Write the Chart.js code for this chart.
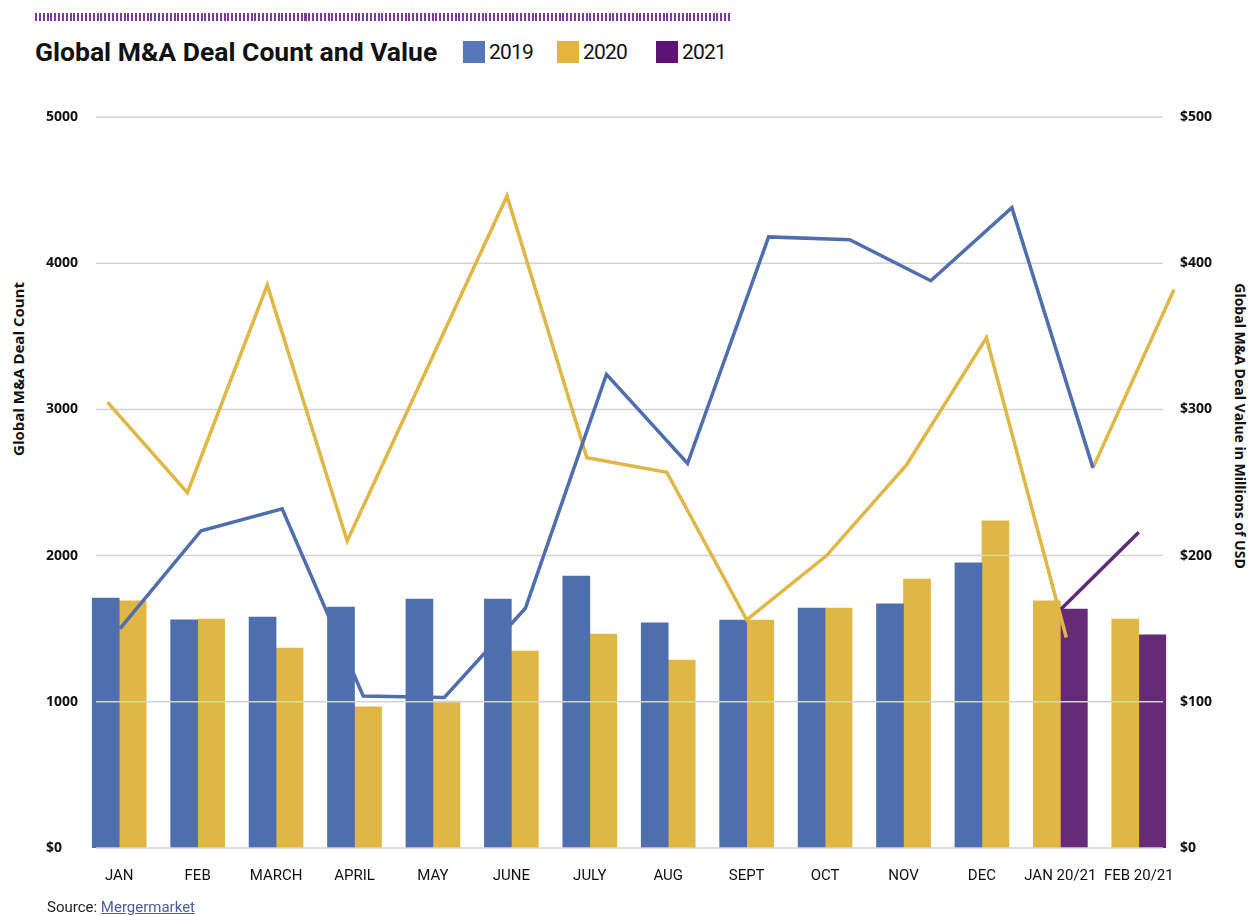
<!DOCTYPE html>
<html>
<head>
<meta charset="utf-8">
<title>Global M&amp;A Deal Count and Value</title>
<script src="https://cdn.jsdelivr.net/npm/chart.js@4.4.1/dist/chart.umd.min.js"></script>
<style>
  html, body { margin: 0; padding: 0; background: #fff; }
  #wrap { position: relative; width: 1251px; height: 915px; overflow: hidden; font-family: "Open Sans", sans-serif; color: #111; }
  #chart { position: absolute; left: 0; top: 0; }
  .stripes { position: absolute; left: 35px; top: 13px; width: 697px; height: 8px;
    background: repeating-linear-gradient(90deg, #7b3d9c 0px, #7b3d9c 2px, transparent 2px, transparent 3.85px); }
  .title { position: absolute; left: 35px; top: 35px; font-family: Roboto, sans-serif;
    font-weight: bold; font-size: 26.5px; line-height: 33px; white-space: nowrap; }
  .key { position: absolute; top: 41px; height: 22px; font-family: Roboto, sans-serif;
    font-size: 21px; letter-spacing: -0.8px; line-height: 22px; white-space: nowrap; }
  .key i { display: inline-block; width: 22px; height: 22px; vertical-align: top; margin-right: 4px; }
  .axis-title { position: absolute; font-weight: bold; white-space: nowrap; }
  .source { position: absolute; left: 47px; top: 898px; font-family: Roboto, sans-serif;
    font-size: 15px; line-height: 18px; color: #222; }
  .source span { color: #4c5c9c; text-decoration: underline; }
</style>
</head>
<body>
<div id="wrap">
  <div class="stripes"></div>
  <div class="title">Global M&amp;A Deal Count and Value</div>
  <div class="key" style="left:463px"><i style="background:#5577b9"></i>2019</div>
  <div class="key" style="left:557px"><i style="background:#e3b540"></i>2020</div>
  <div class="key" style="left:656px"><i style="background:#5e1277"></i>2021</div>
  <div class="axis-title" style="left:18px; top:369px; font-size:15px; transform:translate(-50%,-50%) rotate(-90deg);">Global M&amp;A Deal Count</div>
  <div class="axis-title" style="left:1240px; top:426px; font-size:14px; transform:translate(-50%,-50%) rotate(90deg);">Global M&amp;A Deal Value in Millions of USD</div>
  <canvas id="chart" width="1251" height="915"></canvas>
  <div class="source">Source: <span>Mergermarket</span></div>
</div>
<script>
  var categories = ['JAN', 'FEB', 'MARCH', 'APRIL', 'MAY', 'JUNE', 'JULY', 'AUG', 'SEPT', 'OCT', 'NOV', 'DEC', 'JAN 20/21', 'FEB 20/21'];

  // deal count (bars, left axis)
  var count2019 = [1710, 1560, 1580, 1648, 1703, 1703, 1860, 1540, 1559, 1641, 1670, 1950, null, null];
  var count2020 = [1691, 1566, 1368, 965, 1005, 1347, 1464, 1286, 1559, 1641, 1839, 2237, 1691, 1566];
  var count2021 = [null, null, null, null, null, null, null, null, null, null, null, null, 1634, 1458];

  // deal value in $M (lines, right axis)
  var value2019 = [150, 217, 232, 104, 103, 164, 324, 263, 418, 416, 388, 438, 260];
  var value2020 = [305, 243, 385, 210, 328, 446, 267, 257, 156, 200, 262, 349, 144];
  var value2020link = [null, null, null, null, null, null, null, null, null, null, null, null, 260, 382];
  var value2021 = [null, null, null, null, null, null, null, null, null, null, null, null, 163, 216];

  var countTicks = [0, 1000, 2000, 3000, 4000, 5000];
  var valueTicks = [0, 100, 200, 300, 400, 500];

  var BLUE = '#4f6ead';
  var GOLD = '#e0b645';
  var PURPLE = '#652b78';

  /**
   * turn a value list into {x, y} points for the line axes
   */
  function toPoints(list) {
    var pts = [];
    list.forEach(function (v, i) {
      if (v !== null) pts.push({ x: i, y: v });
    });
    return pts;
  }

  function lineSet(label, data, color, xAxis) {
    return {
      type: 'line',
      label: label,
      data: data,
      xAxisID: xAxis,
      yAxisID: 'yv',
      borderColor: color,
      backgroundColor: color,
      borderWidth: 3.5,
      pointRadius: 0,
      tension: 0,
      borderJoinStyle: 'miter',
      fill: false,
      order: 0
    };
  }

  function barSet(label, data, color) {
    return {
      type: 'bar',
      label: label,
      data: data,
      xAxisID: 'x',
      yAxisID: 'yc',
      backgroundColor: color,
      borderWidth: 0,
      barThickness: 27,
      skipNull: true,
      order: 1
    };
  }

  /**
   * horizontal grid lines, a little inset from the plot edges,
   * drawn over the bars but under the lines
   */
  var insetGrid = {
    id: 'insetGrid',
    afterDatasetDraw: function (chart, args) {
      // the 2019 bars are the last bar set to be painted
      if (args.index !== 4) return;
      var area = chart.chartArea;
      var scale = chart.scales.yc;
      var c = chart.ctx;
      c.save();
      c.strokeStyle = '#d3d3d3';
      c.lineWidth = 1.5;
      countTicks.forEach(function (v) {
        var y = scale.getPixelForValue(v);
        c.beginPath();
        c.moveTo(area.left + 16, y);
        c.lineTo(area.right - 15, y);
        c.stroke();
      });
      c.restore();
    }
  };

  var tickFont = { family: '"Open Sans", sans-serif', weight: 'bold', size: 14 };

  var ctx = document.getElementById('chart').getContext('2d');

  var myChart = new Chart(ctx, {
    data: {
      labels: categories,
      datasets: [
        lineSet('2019', toPoints(value2019), BLUE, 'xb'),
        lineSet('2020', toPoints(value2020), GOLD, 'xy'),
        lineSet('2020', toPoints(value2020link), GOLD, 'xb'),
        lineSet('2021', value2021, '#5f2a7a', 'x'),
        barSet('2019', count2019, BLUE),
        barSet('2020', count2020, GOLD),
        barSet('2021', count2021, PURPLE)
      ]
    },
    plugins: [insetGrid],
    options: {
      responsive: false,
      animation: false,
      layout: { padding: { top: 117, left: 46, right: 0, bottom: 0 } },
      plugins: {
        legend: { display: false },
        tooltip: { enabled: false }
      },
      scales: {
        x: {
          type: 'category',
          offset: true,
          grid: { display: false, drawTicks: false },
          border: { display: false },
          ticks: {
            color: '#111',
            padding: 19,
            maxRotation: 0,
            autoSkip: false,
            font: { family: 'Roboto, sans-serif', size: 15 }
          },
          afterFit: function (scale) { scale.height = 67; }
        },
        // hidden axes for the two main value lines
        xb: { type: 'linear', display: false, min: -0.493, max: 13.049 },
        xy: { type: 'linear', display: false, min: -0.344, max: 13.398 },
        yc: {
          position: 'left',
          min: 0,
          max: 5000,
          afterBuildTicks: function (scale) {
            scale.ticks = countTicks.map(function (v) { return { value: v }; });
          },
          grid: { display: false, drawTicks: false },
          border: { display: false },
          ticks: {
            color: '#111',
            font: tickFont,
            crossAlign: 'far',
            padding: 1,
            callback: function (v) { return v === 0 ? '$0' : String(v); }
          },
          afterFit: function (scale) { scale.width = 34; }
        },
        yv: {
          position: 'right',
          min: 0,
          max: 500,
          afterBuildTicks: function (scale) {
            scale.ticks = valueTicks.map(function (v) { return { value: v }; });
          },
          grid: { display: false, drawTicks: false },
          border: { display: false },
          ticks: {
            color: '#111',
            font: tickFont,
            padding: 2,
            callback: function (v) { return '$' + v; }
          },
          afterFit: function (scale) { scale.width = 73; }
        }
      }
    }
  });
</script>
</body>
</html>
